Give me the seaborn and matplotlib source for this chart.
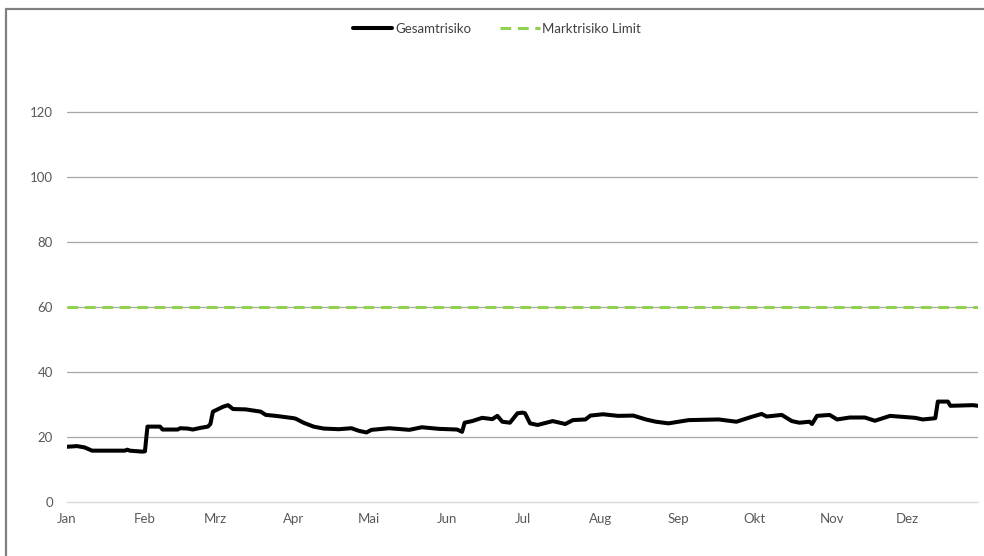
import numpy as np
import pandas as pd
import matplotlib
matplotlib.use("Agg")
import matplotlib.pyplot as plt
from matplotlib.lines import Line2D
import seaborn as sns

# ---- data ----
day_of_year = [0, 4, 7, 10, 23, 24, 25, 30, 31, 32, 37, 38, 44, 45, 48, 50, 53, 56, 57,
               58, 62, 64, 66, 71, 77, 79, 83, 90, 91, 94, 98, 102, 108, 113, 116, 119,
               121, 128, 133, 136, 141, 148, 155, 157, 158, 161, 165, 169, 171, 173, 176,
               179, 181, 182, 184, 187, 193, 198, 201, 206, 208, 213, 219, 225, 230, 234,
               239, 247, 259, 266, 272, 276, 278, 284, 288, 291, 295, 296, 298, 303, 306,
               311, 317, 321, 327, 337, 340, 344, 345, 346, 350, 351, 360, 362]
gesamtrisiko = [17.0, 17.2, 16.8, 15.8, 15.8, 16.1, 15.8, 15.5, 15.6, 23.2, 23.2, 22.3,
                22.3, 22.7, 22.6, 22.3, 22.8, 23.2, 24.0, 27.8, 29.3, 29.8, 28.6, 28.5,
                27.8, 26.8, 26.5, 25.8, 25.6, 24.4, 23.2, 22.6, 22.4, 22.7, 21.9, 21.4,
                22.2, 22.7, 22.4, 22.2, 23.0, 22.5, 22.3, 21.6, 24.4, 24.9, 25.9, 25.5,
                26.5, 24.7, 24.4, 27.3, 27.5, 27.3, 24.2, 23.7, 24.9, 24.0, 25.2, 25.4,
                26.6, 27.0, 26.5, 26.6, 25.4, 24.7, 24.2, 25.2, 25.4, 24.7, 26.2, 27.1,
                26.3, 26.8, 24.9, 24.4, 24.7, 24.0, 26.5, 26.8, 25.4, 26.0, 26.0, 25.0,
                26.5, 25.9, 25.4, 25.7, 25.8, 30.9, 30.9, 29.6, 29.8, 29.6]
limit_value = 60
month_labels = ["Jan", "Feb", "Mrz", "Apr", "Mai", "Jun", "Jul", "Aug", "Sep", "Okt", "Nov", "Dez"]
y_ticks = [0, 20, 40, 60, 80, 100, 120]

year_start = pd.Timestamp("2019-01-01")
df = pd.DataFrame({
    "Datum": [year_start + pd.Timedelta(days=d) for d in day_of_year],
    "Gesamtrisiko": gesamtrisiko,
})

# ---- plot ----
sns.set_style("white")
plt.rcParams["font.family"] = ["Lato", "DejaVu Sans"]

fig = plt.figure(figsize=(9.84, 5.56), dpi=100)
ax = fig.add_axes([0.068, 0.0971, 0.926, 0.8184])

for yt in y_ticks[1:]:
    ax.axhline(yt, color="#a6a6a6", lw=0.9, zorder=0)

sns.lineplot(data=df, x="Datum", y="Gesamtrisiko", ax=ax, color="black", lw=2.9,
             label="Gesamtrisiko", zorder=3)
ax.axhline(limit_value, color="#92d050", lw=2.2, ls=(0, (3.5, 2.2)),
           label="Marktrisiko Limit", zorder=2)

ax.set_ylim(0, 140)
ax.set_xlim(year_start, year_start + pd.Timedelta(days=362))
ax.set_yticks(y_ticks)
month_starts = pd.date_range("2019-01-01", periods=12, freq="MS")
ax.set_xticks(month_starts)
ax.set_xticklabels(month_labels)
ax.set_xlabel("")
ax.set_ylabel("")

for s in ["top", "right", "left"]:
    ax.spines[s].set_visible(False)
ax.spines["bottom"].set_color("#d9d9d9")
ax.spines["bottom"].set_linewidth(1.0)
ax.tick_params(axis="x", colors="#d9d9d9", length=4, width=1, labelcolor="#595959",
               labelsize=9.5, pad=4)
ax.tick_params(axis="y", length=0, labelcolor="#595959", labelsize=9.5, pad=10)

leg = ax.legend(loc="center", bbox_to_anchor=(0.505, 1 - 29 / 556), bbox_transform=fig.transFigure,
                ncol=2, frameon=False, fontsize=9.5, handlelength=3.0, columnspacing=2.2,
                handletextpad=0.2, borderaxespad=0)
for t in leg.get_texts():
    t.set_color("#404040")

# outer frame (left & top visible in reference)
fig.add_artist(Line2D([6 / 984, 6 / 984], [0, 1 - 9 / 556], transform=fig.transFigure,
                      color="#808080", lw=1.6))
fig.add_artist(Line2D([6 / 984, 1], [1 - 9 / 556, 1 - 9 / 556], transform=fig.transFigure,
                      color="#808080", lw=1.6))

fig.savefig("out.png", dpi=100)
